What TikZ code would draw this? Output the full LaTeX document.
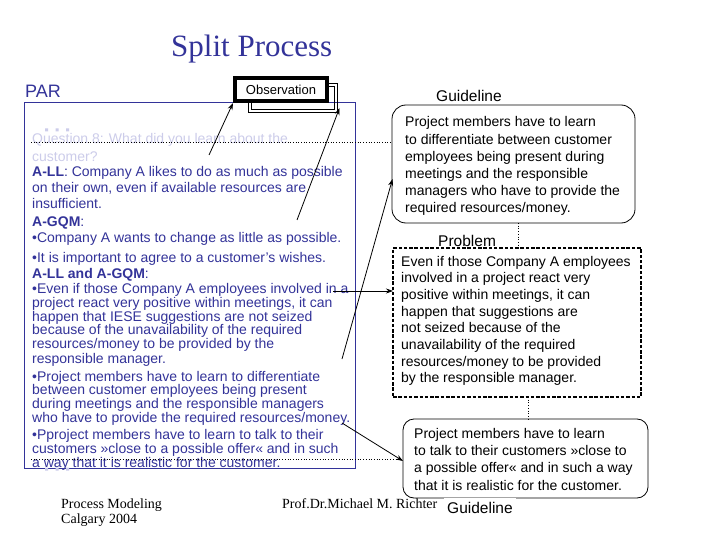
\documentclass[tikz,border=0pt]{standalone}
\usepackage{fontspec}
\setmainfont{Liberation Sans}
\newfontfamily\tnr{Liberation Serif}
\usetikzlibrary{arrows.meta}
\definecolor{navy}{RGB}{51,51,153}
\definecolor{lav}{RGB}{204,204,234}
\tikzset{
  ln/.style={anchor=base west, inner sep=0pt, font=\fontsize{14}{14}\selectfont, text=navy},
  lq/.style={ln, text=lav},
  rt/.style={anchor=base west, inner sep=0pt, font=\fontsize{14}{14}\selectfont, text=black},
  lab/.style={anchor=base west, inner sep=0pt, font=\fontsize{15.5}{16}\selectfont, text=black},
  ft/.style={anchor=base west, inner sep=0pt, font=\tnr\fontsize{14}{14}\selectfont, text=black},
  arr/.style={-{Stealth[length=7pt,width=5pt]}, line width=0.8pt},
  gbox/.style={draw, line width=0.8pt, fill=white, inner sep=0pt},
  dots/.style={dotted, line width=0.7pt},
}
\begin{document}
\begin{tikzpicture}[x=1pt,y=-1pt]
\useasboundingbox (0,0) rectangle (720,540);
\fill[white] (0,0) rectangle (720,540);

% title
\node[anchor=base west, inner sep=0pt, font=\tnr\fontsize{31}{31}\selectfont, text=navy] (title) at (171,57) {Split Process};
\node[anchor=base west, inner sep=0pt, font=\fontsize{18}{18}\selectfont, text=navy] (par) at (25,98) {PAR};

% main box
\node[draw=navy, line width=0.8pt, minimum width=331pt, minimum height=366pt, inner sep=0pt] (mainbox) at (189.5,285) {};

% observation with double-line shadow
\node[draw, line width=1pt, minimum width=89pt, minimum height=29pt, inner sep=0pt] (obsshadow) at (292.5,98.5) {};
\node[draw, line width=1pt, minimum width=83pt, minimum height=23pt, inner sep=0pt] (obsshadowin) at (292.5,98.5) {};
\node[draw, line width=4pt, fill=white, minimum width=92pt, minimum height=23pt, inner sep=0pt, font=\fontsize{13}{13}\selectfont] (obs) at (281,89.5) {Observation};

% light dots
\fill[lav] (45,128.5) rectangle +(3,3) (55.5,128.5) rectangle +(3,3) (66,128.5) rectangle +(3,3);
\fill[lav] (45,467.5) rectangle +(3,3) (55.5,467.5) rectangle +(3,3) (66,467.5) rectangle +(3,3);

% main text
\node[lq] (l1) at (32,144) {Question 8: What did you learn about the};
\node[lq] (l2) at (32,161.5) {customer?};
\node[ln] (l3) at (32,177) {\textbf{A-LL}: Company A likes to do as much as possible};
\node[ln] (l4) at (32,193) {on their own, even if available resources are};
\node[ln] (l5) at (32,209) {insufficient.};
\node[ln] (l6) at (32,226) {\textbf{A-GQM}:};
\node[ln] (l7) at (32,243) {•Company A wants to change as little as possible.};
\node[ln] (l8) at (32,262) {•It is important to agree to a customer's wishes.};
\node[ln] (l9) at (32,278) {\textbf{A-LL and A-GQM}:};
\node[ln] (l10) at (32,293) {•Even if those Company A employees involved in a};
\node[ln] (l11) at (32,307) {project react very positive within meetings, it can};
\node[ln] (l12) at (32,321) {happen that IESE suggestions are not seized};
\node[ln] (l13) at (32,334.5) {because of the unavailability of the required};
\node[ln] (l14) at (32,348.5) {resources/money to be provided by the};
\node[ln] (l15) at (32,363) {responsible manager.};
\node[ln] (l16) at (32,381) {•Project members have to learn to differentiate};
\node[ln] (l17) at (32,394.5) {between customer employees being present};
\node[ln] (l18) at (32,408.5) {during meetings and the responsible managers};
\node[ln] (l19) at (32,422) {who have to provide the required resources/money.};
\node[ln] (l20) at (32,439) {•Pproject members have to learn to talk to their};
\node[ln] (l21) at (32,453) {customers »close to a possible offer« and in such};
\node[ln] (l22) at (32,467) {a way that it is realistic for the customer.};

% dotted lines
\coordinate (d1a) at (31,142); \coordinate (d1b) at (393,142);
\coordinate (d2a) at (31,459); \coordinate (d2b) at (410,459);
\draw[dots] (d1a) -- (d1b);
\draw[dots] (d2a) -- (d2b);

% guideline box 1
\node[lab] (gl1) at (436,102) {Guideline};
\node[gbox, rounded corners=14pt, minimum width=243pt, minimum height=118pt] (g1) at (513.5,164) {};
\node[rt] (g1a) at (405,127) {Project members have to learn};
\node[rt] (g1b) at (405,144.5) {to differentiate between customer};
\node[rt] (g1c) at (405,161.5) {employees being present during};
\node[rt] (g1d) at (405,178.5) {meetings and the responsible};
\node[rt] (g1e) at (405,196) {managers who have to provide the};
\node[rt] (g1f) at (405,213) {required resources/money.};

% problem box
\node[draw, line width=2.8pt, dash pattern=on 3.5pt off 1.8pt, minimum width=248pt, minimum height=149pt, inner sep=0pt] (pb) at (517,322.5) {};
\node[lab] (pl) at (438,246) {Problem};
\node[rt] (p1) at (401,266) {Even if those Company A employees};
\node[rt] (p2) at (401,282.5) {involved in a project react very};
\node[rt] (p3) at (401,299) {positive within meetings, it can};
\node[rt] (p4) at (401,316) {happen that suggestions are};
\node[rt] (p5) at (401,332) {not seized because of the};
\node[rt] (p6) at (401,349) {unavailability of the required};
\node[rt] (p7) at (401,366) {resources/money to be provided};
\node[rt] (p8) at (401,382) {by the responsible manager.};

% guideline box 2
\node[gbox, rounded corners=11pt, minimum width=245pt, minimum height=79pt] (g2) at (525.5,458.5) {};
\node[rt] (g2a) at (414,438) {Project members have to learn};
\node[rt] (g2b) at (414,455) {to talk to their customers »close to};
\node[rt] (g2c) at (414,472.5) {a possible offer« and in such a way};
\node[rt] (g2d) at (414,490) {that it is realistic for the customer.};

% vertical dotted connectors
\coordinate (v1a) at (518,223); \coordinate (v1b) at (518,248);
\coordinate (v2a) at (528,397); \coordinate (v2b) at (528,419);
\draw[dots] (v1a) -- (v1b);
\draw[dots] (v2a) -- (v2b);

% footer
\node[ft] (f1) at (61,508) {Process Modeling};
\node[ft] (f2) at (61,523.5) {Calgary 2004};
\node[ft] (f3) at (282,508) {Prof.Dr.Michael M. Richter};
\node[lab, fill=white, text height=14pt, text depth=3pt, inner xsep=3pt, inner ysep=1pt] (gl2) at (444,513) {Guideline};

% arrows
\coordinate (a1s) at (209,155);
\coordinate (a2s) at (297,220); \coordinate (a2e) at (339.5,108);
\coordinate (a3s) at (342,359); \coordinate (a3e) at (392.5,179);
\coordinate (a4s) at (333,291); \coordinate (a4e) at (393,291);
\coordinate (a5s) at (342,423); \coordinate (a5e) at (403,461);
\draw[arr] (a1s) -- (obs.south west);
\draw[arr] (a2s) -- (a2e);
\draw[arr] (a3s) -- (a3e);
\draw[arr] (a4s) -- (a4e);
\draw[arr] (a5s) -- (a5e);
\end{tikzpicture}
\end{document}
